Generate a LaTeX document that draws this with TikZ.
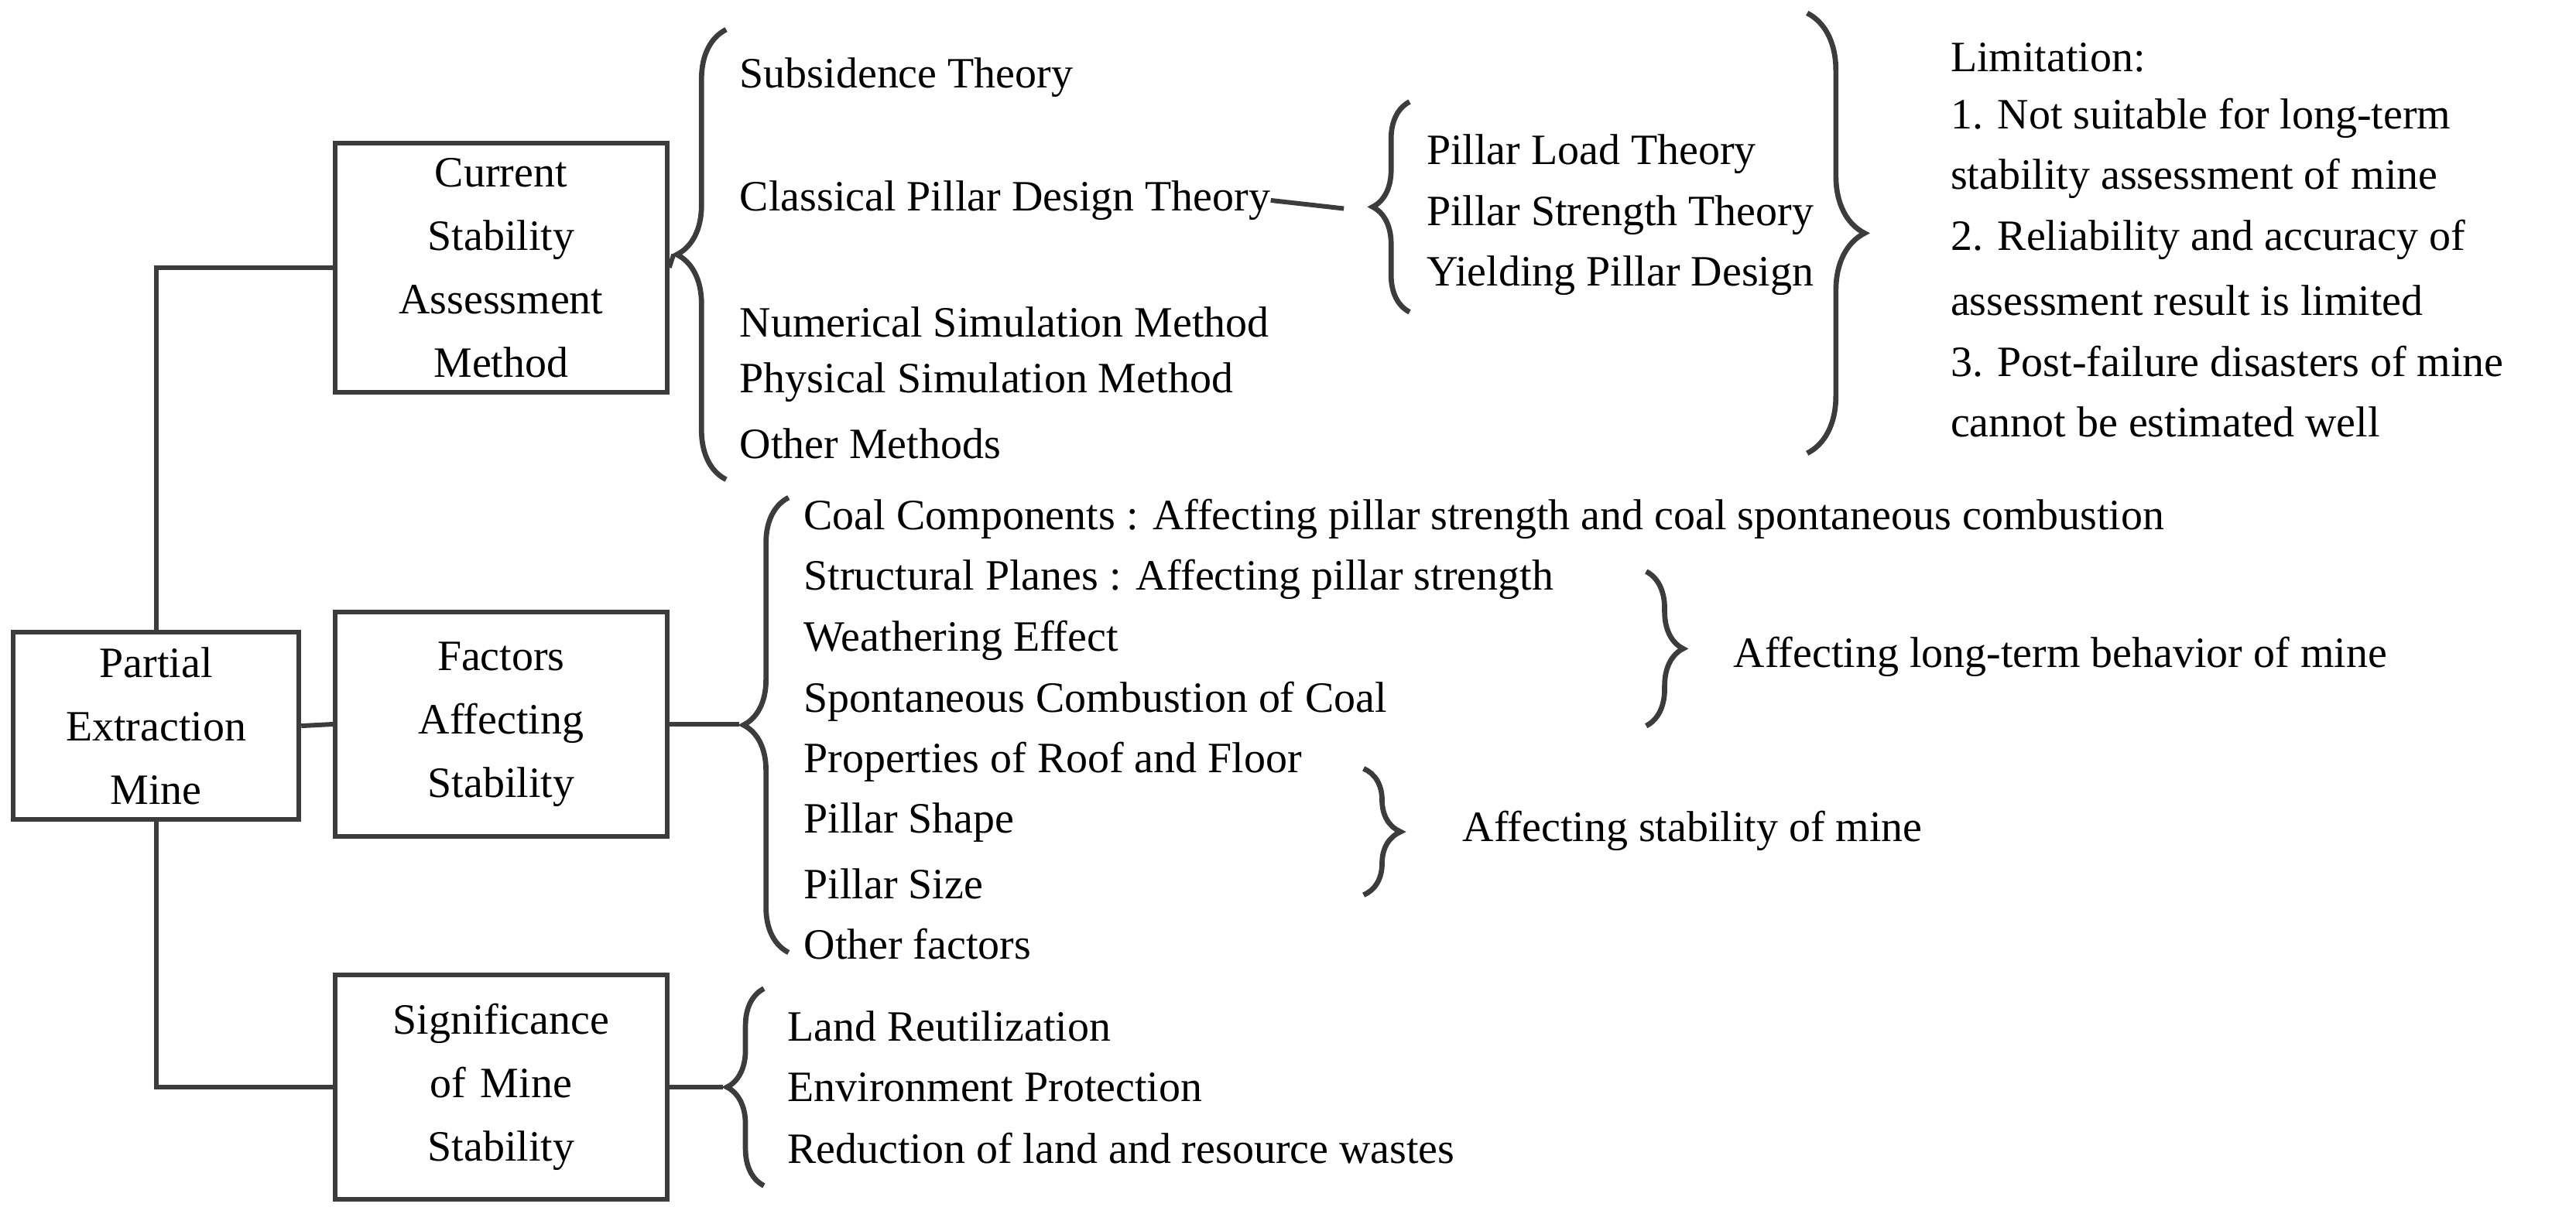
\documentclass[tikz,border=0pt]{standalone}
\usepackage{fontspec}
\setmainfont{Liberation Serif}
\usetikzlibrary{decorations.pathreplacing, positioning}
\definecolor{braceGray}{RGB}{60,60,60}
\tikzset{
    % boxes on the left
    topicBox/.style={
        rectangle, draw=braceGray, line width=1.6pt,
        minimum width=4.04cm, minimum height=2.74cm,
        text width=3.6cm, align=center,
        font=\fontsize{15}{22}\selectfont
    },
    itemText/.style={anchor=west, inner sep=0pt, font=\fontsize{15}{22}\selectfont},
    curly/.style={decorate, decoration={brace, amplitude=#1}, draw=braceGray, line width=1.8pt},
    curly/.default=0.5cm,
    link/.style={draw=braceGray, line width=1.6pt}
}
\begin{document}
\begin{tikzpicture}[x=0.02cm, y=-0.02cm]
    \useasboundingbox (0,0) rectangle (1568,739);

    % --- boxes ---
    \node (root) [topicBox, minimum width=3.48cm, minimum height=2.28cm, text width=3.2cm] at (95,442) {Partial\\ Extraction\\ Mine};
    \node (current) [topicBox, minimum height=3.04cm] at (305,163) {Current\\ Stability\\ Assessment\\ Method};
    \node (factors) [topicBox] at (305,441) {Factors\\ Affecting\\ Stability};
    \node (signif) [topicBox] at (305,662) {Significance\\ of Mine\\ Stability};

    \draw [link] (root.north) |- (current.west);
    \draw [link] (root.south) |- (signif.west);
    \draw [link] (root.east) -- (factors.west);

    % --- braces ---
    \draw [curly=0.6cm] (442,292) -- (442,18) coordinate[pos=0.5] (b1);
    \coordinate (tip1) at (410,155);
    \draw [curly=0.45cm] (858,190) -- (858,62);
    \coordinate (tip2) at (818,127);
    \draw [curly=0.7cm] (1100,8) -- (1100,276);
    \draw [curly=0.55cm] (480,580) -- (480,303);
    \coordinate (tip4) at (450,441);
    \draw [curly=0.45cm] (1002,348) -- (1002,442);
    \draw [curly=0.45cm] (830,468) -- (830,545);
    \draw [curly=0.45cm] (465,722) -- (465,602);
    \coordinate (tip7) at (440,662);

    \draw [link] (current.east) -- (tip1);
    \draw [link] (factors.east) -- (tip4);
    \draw [link] (signif.east) -- (tip7);

    % --- methods ---
    \node (sub) [itemText] at (450,47) {Subsidence Theory};
    \node (cls) [itemText] at (450,122) {Classical Pillar Design Theory};
    \draw [link] (cls.east) -- (tip2);
    \foreach \t [count=\i] in {Numerical Simulation Method, Physical Simulation Method, Other Methods}
        \node (m\i) [itemText] at (450,159+37*\i) {\t};
    \foreach \t [count=\i] in {Pillar Load Theory, Pillar Strength Theory, Yielding Pillar Design}
        \node (p\i) [itemText] at (868,57+37*\i) {\t};

    % --- limitation ---
    \foreach \t [count=\i] in {Limitation:, 1. Not suitable for long-term, stability assessment of mine,
        2. Reliability and accuracy of, assessment result is limited,
        3. Post-failure disasters of mine, cannot be estimated well}
        \node (lim\i) [itemText] at (1187,-2+37*\i) {\t};

    % --- factors ---
    \foreach \t [count=\i] in {Coal Components : Affecting pillar strength and coal spontaneous combustion,
        Structural Planes : Affecting pillar strength, Weathering Effect,
        Spontaneous Combustion of Coal, Properties of Roof and Floor,
        Pillar Shape, Pillar Size, Other factors}
        \node (f\i) [itemText] at (489,279+37*\i) {\t};
    \node (longterm) [itemText] at (1055,400) {Affecting long-term behavior of mine};
    \node (stab) [itemText] at (890,506) {Affecting stability of mine};

    % --- significance ---
    \foreach \t [count=\i] in {Land Reutilization, Environment Protection, Reduction of land and resource wastes}
        \node (s\i) [itemText] at (479,588+37*\i) {\t};
\end{tikzpicture}
\end{document}
